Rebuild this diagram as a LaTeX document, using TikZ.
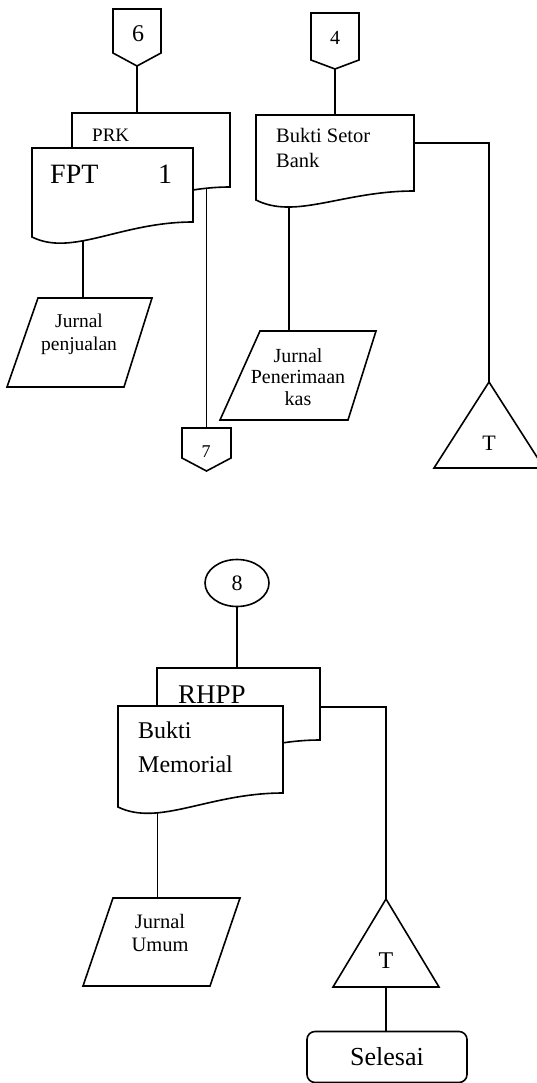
\documentclass[tikz,border=0pt]{standalone}
\usepackage{fontspec}
\setmainfont{Liberation Serif}
\usetikzlibrary{shapes.geometric,backgrounds,calc}
\tikzset{
  shp/.style={draw=black, line width=1.6pt, fill=white, line join=miter},
  conn/.style={draw=black, line width=1.6pt},
  lbl/.style={inner sep=0pt, anchor=base},
  lblw/.style={inner sep=0pt, anchor=base west},
}
\newcommand{\fs}[1]{\fontsize{#1}{#1}\selectfont}
% document shape: name, x1, y1, x2, y right-bottom, y left-bottom
\newcommand{\docshape}[6]{%
  \draw[shp] (#2,#3) coordinate (#1-nw) -- (#4,#3) coordinate (#1-ne) -- (#4,#5) coordinate (#1-se)
    .. controls ({#2+0.55*(#4-#2)},#5) and ({#2+0.25*(#4-#2)},{#6+20}) .. (#2,#6) coordinate (#1-sw) -- cycle;}
% off-page connector: name, x1, y1, x2, y side end, y point
\newcommand{\offpage}[6]{%
  \draw[shp] (#2,#3) coordinate (#1-nw) -- (#4,#3) -- (#4,#5) -- ({(#2+#4)/2},#6) coordinate (#1-s) -- (#2,#5) -- cycle;
  \coordinate (#1-n) at ({(#2+#4)/2},#3);}
% parallelogram: name, ytop, ybot, x top-left, x top-right, x bottom-right, x bottom-left
\newcommand{\para}[7]{%
  \draw[shp] (#4,#2) coordinate (#1-tl) -- (#5,#2) coordinate (#1-tr) -- (#6,#3) -- (#7,#3) -- cycle;}
% triangle: name, apex x, apex y, base y, half width
\newcommand{\tri}[5]{%
  \draw[shp] (#2,#3) coordinate (#1-apex) -- ({#2+#5},#4) -- ({#2-#5},#4) -- cycle;
  \coordinate (#1-base) at (#2,#4);}
\begin{document}
\begin{tikzpicture}[x=1pt,y=-1pt]
\useasboundingbox (0,0) rectangle (537,1083);

% ---------- left column top ----------
\offpage{c6}{113}{9}{161}{53}{66}
\node[lbl] (t6) at (138,42) {\fs{24}6};
\docshape{prk}{72}{113}{230}{187}{202}
\node[lblw] (tprk) at (92,142) {\fs{19}PRK};
\docshape{fpt}{32}{148}{193}{222}{237}
\node[lblw] (tfpt) at (50,184) {\fs{28}FPT};
\node[lbl] (tone) at (165,184) {\fs{28}1};
\para{jp}{298}{387}{38}{152}{124}{7}
\node[lbl] (tjp1) at (79,327) {\fs{19.5}Jurnal};
\node[lbl] (tjp2) at (79,350) {\fs{19.5}penjualan};
\offpage{c7}{182}{428}{231}{458}{471}
\node[lbl] (t7) at (206,457) {\fs{18}7};

% ---------- right column top ----------
\offpage{c4}{311}{13}{359}{60}{69}
\node[lbl] (t4) at (335,45) {\fs{20}4};
\docshape{bsb}{256}{115}{414}{191}{200}
\node[lblw] (tbsb1) at (276,143) {\fs{20.5}Bukti Setor};
\node[lblw] (tbsb2) at (276,168) {\fs{20.5}Bank};
\para{jpk}{331}{420}{260}{376}{348}{220}
\node[lbl] (tjpk1) at (298,362) {\fs{20}Jurnal};
\node[lbl] (tjpk2) at (298,383) {\fs{20}Penerimaan};
\node[lbl] (tjpk3) at (298,405) {\fs{20}kas};
\tri{ta}{489}{382}{468}{55}
\node[lbl] (tta) at (489,450) {\fs{22}T};

% ---------- bottom part ----------
\node[shp, ellipse, minimum width=64pt, minimum height=47pt, inner sep=0pt] (c8) at (237,583) {\fs{22}8};
\docshape{rhpp}{157}{668}{320}{740}{755}
\node[lblw] (trhpp) at (178,703) {\fs{27}RHPP};
\docshape{bm}{118}{706}{283}{793}{807}
\node[lblw] (tbm1) at (138,738) {\fs{24}Bukti};
\node[lblw] (tbm2) at (138,772) {\fs{24}Memorial};
\para{ju}{898}{986}{113}{240}{210}{83}
\node[lbl] (tju1) at (160,928) {\fs{20.5}Jurnal};
\node[lbl] (tju2) at (160,951) {\fs{20.5}Umum};
\tri{tb}{386}{899}{987}{53}
\node[lbl] (ttb) at (386,968) {\fs{24}T};
\node[shp, rounded corners=8pt, minimum width=160pt, minimum height=51pt, inner sep=0pt] (sel) at (387,1057) {\fs{26}Selesai};

% ---------- connectors ----------
\begin{pgfonlayer}{background}
\fill[white] (0,0) rectangle (537,1083);
\draw[conn] (c6-s) -- (c6-s |- prk-nw);
\draw[conn] ($(fpt-sw)!0.318!(fpt-se)$) coordinate (fpt-out) -- (fpt-out |- jp-tl);
\draw[conn] (c7-n |- prk-se) -- (c7-n);
\draw[conn] (c4-s) -- (c4-s |- bsb-nw);
\draw[conn] ($(bsb-ne)!0.37!(bsb-se)$) -| (ta-apex);
\draw[conn] ($(bsb-sw)!0.21!(bsb-se)$) coordinate (bsb-out) -- (bsb-out |- jpk-tl);
\draw[conn] (c8.south) -- (c8.south |- rhpp-nw);
\draw[conn] ($(rhpp-ne)!0.54!(rhpp-se)$) -| (tb-apex);
\draw[conn] ($(bm-sw)!0.24!(bm-se)$) coordinate (bm-out) -- (bm-out |- ju-tl);
\draw[conn] (tb-base) -- (tb-base |- sel.north);
\end{pgfonlayer}
\end{tikzpicture}
\end{document}
